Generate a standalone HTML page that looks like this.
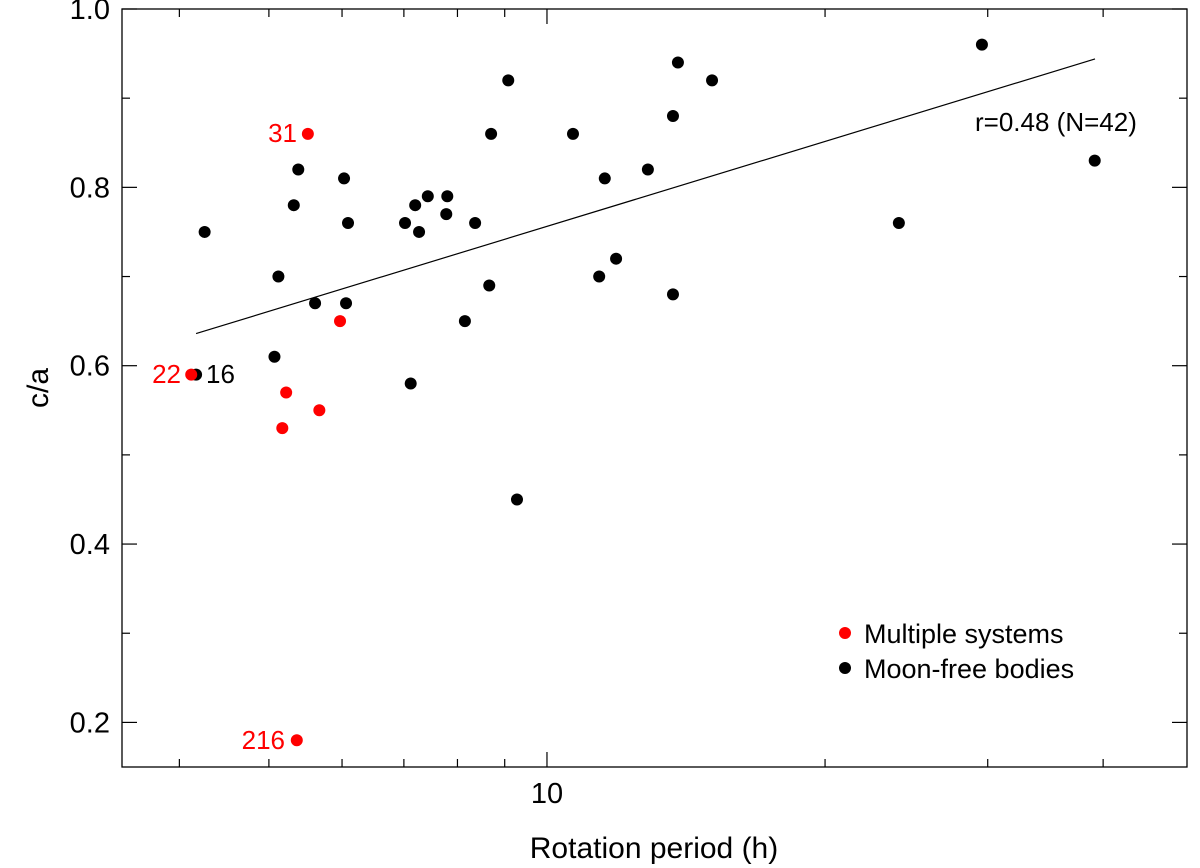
<!DOCTYPE html>
<html><head><meta charset="utf-8"><style>
body{margin:0;background:#fff;}
svg{display:block;font-family:"Liberation Sans",sans-serif;}
</style></head><body>
<svg id="chart" width="1200" height="868" viewBox="0 0 1200 868"></svg>
<script>
const blackX=[4.26,5.12,5.07,4.17,5.32,5.38,5.61,6.03,6.09,6.06,7.02,7.20,7.27,7.43,7.80,7.78,8.36,7.12,8.15,8.66,8.70,9.08,9.28,10.67,11.39,11.55,11.88,12.86,13.69,13.69,13.86,15.09,24.04,29.57,39.17];
const blackY=[0.75,0.70,0.61,0.59,0.78,0.82,0.67,0.81,0.76,0.67,0.76,0.78,0.75,0.79,0.79,0.77,0.76,0.58,0.65,0.69,0.86,0.92,0.45,0.86,0.70,0.81,0.72,0.82,0.88,0.68,0.94,0.92,0.76,0.96,0.83];
const redX=[5.51,4.12,5.97,5.22,5.17,5.67,5.36];
const redY=[0.86,0.59,0.65,0.57,0.53,0.55,0.18];
const fitX=[4.17,39.2];
const fitY=[0.636,0.944];
const yTicks=[0.2,0.4,0.6,0.8,1.0];
const yTickLabels=["0.2","0.4","0.6","0.8","1.0"];
const yMinor=[0.3,0.5,0.7,0.9];
const xMajor=[10];
const xMajorLabels=["10"];
const xMinor=[4,5,6,7,8,9,20,30,40];

const L=122,R=1187,T=9,B=767;
const xmin=3.467,xmax=49.3,ymin=0.15,ymax=1.0;
const sx=v=>L+(Math.log10(v)-Math.log10(xmin))/(Math.log10(xmax)-Math.log10(xmin))*(R-L);
const sy=v=>B-(v-ymin)/(ymax-ymin)*(B-T);
const svg=document.getElementById('chart');
const NS='http://www.w3.org/2000/svg';
function mk(tag,attrs,parent){const e=document.createElementNS(NS,tag);for(const k in attrs)e.setAttribute(k,attrs[k]);(parent||svg).appendChild(e);return e;}

let frame=mk('rect',{x:L,y:T,width:R-L,height:B-T,fill:'none',stroke:'#000','stroke-width':1.3});



yTicks.forEach((v,i)=>{
  const y=sy(v);
  let t=mk('line',{x1:L,x2:L+15,y1:y,y2:y,stroke:'#000','stroke-width':1.2});
  
  
  let t2=mk('line',{x1:R-15,x2:R,y1:y,y2:y,stroke:'#000','stroke-width':1.2});
  
  
  let lb=mk('text',{x:L-12,y:y+10,'text-anchor':'end','font-size':29});
  lb.textContent=yTickLabels[i];
  
  
});
yMinor.forEach(v=>{
  const y=sy(v);
  let t=mk('line',{x1:L,x2:L+8,y1:y,y2:y,stroke:'#000','stroke-width':1.2});
  
  
  let t2=mk('line',{x1:R-8,x2:R,y1:y,y2:y,stroke:'#000','stroke-width':1.2});
  
  
});
xMajor.forEach((v,i)=>{
  const x=sx(v);
  let t=mk('line',{x1:x,x2:x,y1:B,y2:B-15,stroke:'#000','stroke-width':1.2});
  
  
  let t2=mk('line',{x1:x,x2:x,y1:T,y2:T+15,stroke:'#000','stroke-width':1.2});
  
  
  let lb=mk('text',{x:x,y:B+36,'text-anchor':'middle','font-size':29});
  lb.textContent=xMajorLabels[i];
  
  
});
xMinor.forEach(v=>{
  const x=sx(v);
  let t=mk('line',{x1:x,x2:x,y1:B,y2:B-8,stroke:'#000','stroke-width':1.2});
  
  
  let t2=mk('line',{x1:x,x2:x,y1:T,y2:T+8,stroke:'#000','stroke-width':1.2});
  
  
});

let fit=mk('line',{x1:sx(fitX[0]),y1:sy(fitY[0]),x2:sx(fitX[1]),y2:sy(fitY[1]),stroke:'#000','stroke-width':1.2});



blackX.forEach((v,i)=>{
  let c=mk('circle',{cx:sx(v),cy:sy(blackY[i]),r:6,fill:'#000'});
  
  
});
redX.forEach((v,i)=>{
  let c=mk('circle',{cx:sx(v),cy:sy(redY[i]),r:6,fill:'#ff0000'});
  
  
});
</script>
<svg width="1200" height="868" style="position:absolute;left:0;top:0;font-family:'Liberation Sans',sans-serif">
<text x="297" y="142" text-anchor="end" font-size="26" fill="#ff0000">31</text>
<text x="181" y="383" text-anchor="end" font-size="26" fill="#ff0000">22</text>
<text x="206" y="383" font-size="26" fill="#000">16</text>
<text x="285" y="749" text-anchor="end" font-size="26" fill="#ff0000">216</text>
<text x="975" y="131" font-size="26" fill="#000">r=0.48 (N=42)</text>
<circle cx="845" cy="633" r="6" fill="#ff0000"/>
<text x="864" y="643" font-size="27">Multiple systems</text>
<circle cx="845" cy="668" r="6" fill="#000"/>
<text x="864" y="678" font-size="27">Moon-free bodies</text>
<text x="654" y="858" text-anchor="middle" font-size="30">Rotation period (h)</text>
<text transform="translate(48,388) rotate(-90)" text-anchor="middle" font-size="30">c/a</text>
</svg>
</body></html>
